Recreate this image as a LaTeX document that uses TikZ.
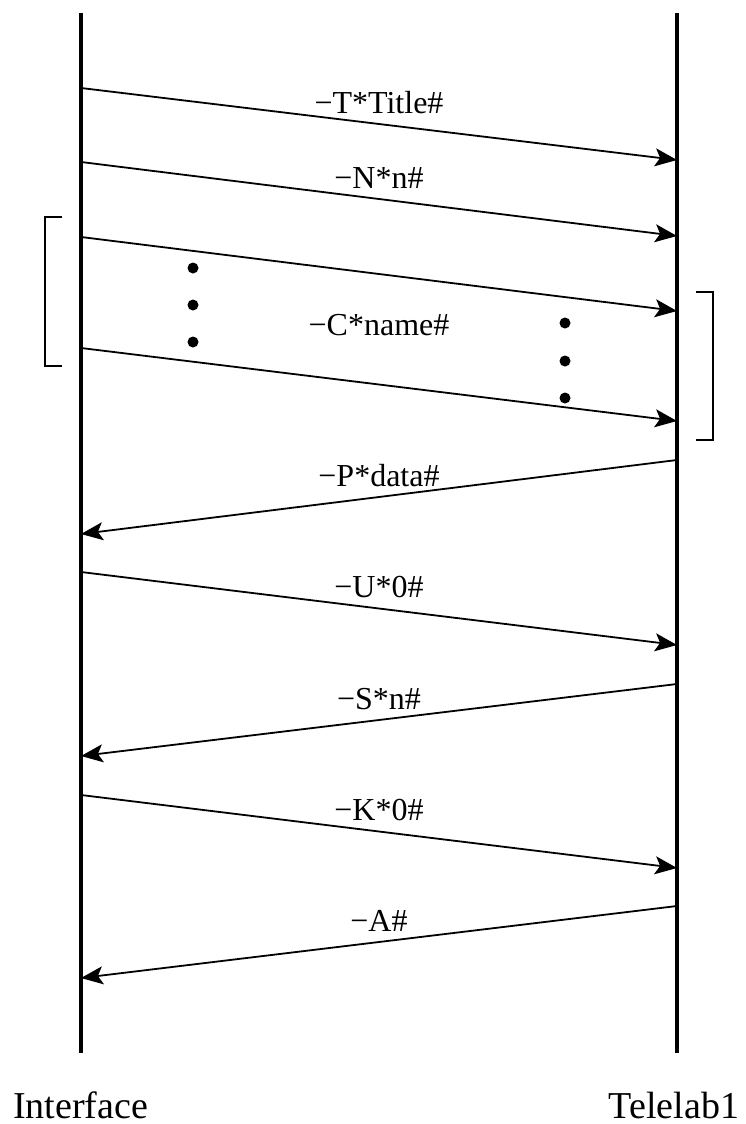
\documentclass[tikz,border=0pt]{standalone}
\usepackage{fontspec}
\setmainfont{Liberation Serif}
\usetikzlibrary{arrows.meta}
\tikzset{
  lifeline/.style={line width=4.5pt},
  msg/.style={line width=1.8pt,-{Stealth[length=22pt,width=18pt,inset=5pt]}},
  msglabel/.style={font=\fontsize{32}{38}\selectfont,anchor=base,yshift=11pt,inner sep=0pt},
  endlabel/.style={font=\fontsize{38}{46}\selectfont,anchor=base,inner sep=0pt},
  bracket/.style={line width=1.6pt},
  vdot/.style={circle,fill,inner sep=0pt,minimum size=11pt}
}

\begin{document}
\begin{tikzpicture}[x=1pt,y=-1pt]
  \useasboundingbox (0,0) rectangle (746,1124);
  % Lifelines
  \coordinate (itop) at (81,13);
  \coordinate (ibot) at (81,1053);
  \coordinate (ttop) at (677,13);
  \coordinate (tbot) at (677,1053);
  \draw[lifeline] (itop) -- (ibot);
  \draw[lifeline] (ttop) -- (tbot);
  \node[endlabel] (iface) at (80.5,1118) {Interface};
  \node[endlabel] (tlab) at (674,1118) {Telelab1};
  % Message points
  \coordinate (i1) at (81,88);   \coordinate (t1) at (677,160);
  \coordinate (i2) at (81,162);  \coordinate (t2) at (677,236);
  \coordinate (i3) at (81,237);  \coordinate (t3) at (677,311);
  \coordinate (i4) at (81,348);  \coordinate (t4) at (677,421);
  \coordinate (t5) at (677,460); \coordinate (i5) at (81,534);
  \coordinate (i6) at (81,572);  \coordinate (t6) at (677,645);
  \coordinate (t7) at (677,684); \coordinate (i7) at (81,756);
  \coordinate (i8) at (81,795);  \coordinate (t8) at (677,868);
  \coordinate (t9) at (677,906); \coordinate (i9) at (81,978);
  % Messages
  \draw[msg] (i1) -- (t1) node[midway,msglabel] (m1) {−T*Title\#};
  \draw[msg] (i2) -- (t2) node[midway,msglabel] (m2) {−N*n\#};
  \draw[msg] (i3) -- (t3);
  \draw[msg] (i4) -- (t4);
  \node[msglabel,yshift=-11pt] (m3) at (379,335) {−C*name\#};
  \draw[msg] (t5) -- (i5) node[midway,msglabel] (m5) {−P*data\#};
  \draw[msg] (i6) -- (t6) node[midway,msglabel] (m6) {−U*0\#};
  \draw[msg] (t7) -- (i7) node[midway,msglabel] (m7) {−S*n\#};
  \draw[msg] (i8) -- (t8) node[midway,msglabel] (m8) {−K*0\#};
  \draw[msg] (t9) -- (i9) node[midway,msglabel] (m9) {−A\#};
  % Repetition dots
  \node[vdot] (ld1) at (193,268) {};
  \node[vdot] (ld2) at (193,305) {};
  \node[vdot] (ld3) at (193,342) {};
  \node[vdot] (rd1) at (565,323) {};
  \node[vdot] (rd2) at (565,361) {};
  \node[vdot] (rd3) at (565,398) {};
  % Brackets
  \draw[bracket] (62,217) -- (45,217) -- (45,366) -- (62,366);
  \draw[bracket] (696,292) -- (713,292) -- (713,440) -- (696,440);
\end{tikzpicture}
\end{document}
